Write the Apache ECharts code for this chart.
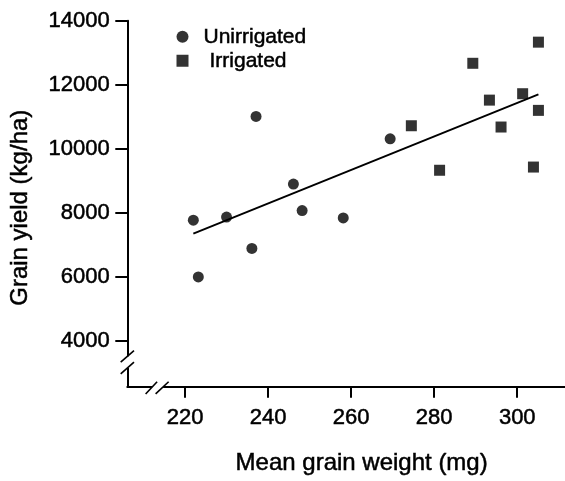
<!DOCTYPE html>
<html>
<head>
<meta charset="utf-8">
<script src="https://cdn.jsdelivr.net/npm/echarts@6/dist/echarts.min.js"></script>
<style>
html, body { margin: 0; padding: 0; background: #fff; }
#main { width: 565px; height: 481px; }
</style>
</head>
<body>
<div id="main"></div>
<script>
// values
var unirrWeight = [222.0, 223.2, 230.0, 236.1, 237.1, 246.1, 248.2, 258.1, 269.4];
var unirrYield  = [7770, 6000, 7870, 6890, 11010, 8900, 8070, 7840, 10310];
var irrWeight = [274.5, 281.3, 289.3, 293.3, 296.1, 301.3, 305.1, 305.1, 303.9];
var irrYield  = [10720, 9330, 12670, 11520, 10680, 11720, 13330, 11200, 9430];
var fitWeight = [222.0, 305.1];
var fitYield  = [7350, 11700];
var xTicks = [220, 240, 260, 280, 300];
var yTicks = [4000, 6000, 8000, 10000, 12000, 14000];
var xBreakAt = 213.4, yBreakAt = 3337;

function pairs(xs, ys) {
    return xs.map(function (x, i) { return [x, ys[i]]; });
}

var FONT = '"Liberation Sans", Arial, sans-serif';
// scanned figure text is a little heavy, thicken the glyphs slightly
var ink = { color: '#000', fontFamily: FONT, textBorderColor: '#000', textBorderWidth: 0.5 };

var dom = document.getElementById('main');
var myChart = echarts.init(dom);

var option = {
    animation: false,
    textStyle: { fontFamily: FONT, color: '#000' },
    grid: { left: 127.3, right: 0, top: 20.7, bottom: 87.7, containLabel: false },
    legend: {
        orient: 'vertical',
        left: 171.5,
        top: 21,
        itemWidth: 12,
        itemHeight: 12,
        itemGap: 2.5,
        textStyle: Object.assign({ fontSize: 21, lineHeight: 21 }, ink),
        data: [
            { name: 'Unirrigated', textStyle: { padding: [0, 0, 0, 10] } },
            { name: 'Irrigated', textStyle: { padding: [0, 0, 0, 16] } }
        ]
    },
    xAxis: {
        type: 'value',
        min: 206.1,
        max: 311.5,
        splitLine: { show: false },
        axisLine: { show: true, onZero: false, lineStyle: { color: '#000', width: 2 } },
        axisTick: { show: true, length: 11, customValues: xTicks, lineStyle: { color: '#000', width: 2 } },
        axisLabel: Object.assign({ customValues: xTicks, fontSize: 22, margin: 20,
            formatter: function (v) { return String(v); } }, ink),
        name: 'Mean grain weight (mg)',
        nameLocation: 'middle',
        nameGap: 65,
        nameTextStyle: Object.assign({ fontSize: 24, padding: [0, 0, 0, 31] }, ink)
    },
    yAxis: {
        type: 'value',
        min: 2570,
        max: 14000,
        splitLine: { show: false },
        axisLine: { show: true, onZero: false, lineStyle: { color: '#000', width: 2 } },
        axisTick: { show: true, length: 12, customValues: yTicks, lineStyle: { color: '#000', width: 2 } },
        axisLabel: Object.assign({ customValues: yTicks, fontSize: 22, margin: 17.6,
            formatter: function (v) { return String(v); } }, ink),
        name: 'Grain yield (kg/ha)',
        nameLocation: 'middle',
        nameRotate: 90,
        nameGap: 95,
        nameTextStyle: Object.assign({ fontSize: 24, padding: [0, 8, 0, 0] }, ink)
    },
    series: [
        {
            name: 'Unirrigated',
            type: 'scatter',
            symbol: 'circle',
            symbolSize: 11,
            itemStyle: { color: '#000' },
            data: pairs(unirrWeight, unirrYield)
        },
        {
            name: 'Irrigated',
            type: 'scatter',
            symbol: 'rect',
            symbolSize: 11,
            itemStyle: { color: '#000' },
            data: pairs(irrWeight, irrYield)
        },
        {
            name: 'fit',
            type: 'line',
            showSymbol: false,
            symbol: 'none',
            lineStyle: { color: '#000', width: 2 },
            data: pairs(fitWeight, fitYield),
            z: 1
        }
    ]
};

myChart.setOption(option);

// axis break marks
var yb = myChart.convertToPixel({ gridIndex: 0 }, [206.1, yBreakAt]);
var xb = myChart.convertToPixel({ gridIndex: 0 }, [xBreakAt, 2570]);
var slash = { stroke: '#000', lineWidth: 1.6 };
myChart.setOption({
    graphic: [
        { type: 'rect', z: 100, shape: { x: yb[0] - 3, y: yb[1] - 5.8, width: 6, height: 11.6 }, style: { fill: '#fff' } },
        { type: 'line', z: 101, shape: { x1: yb[0] - 6.6, y1: yb[1], x2: yb[0] + 6.7, y2: yb[1] - 11.6 }, style: slash },
        { type: 'line', z: 101, shape: { x1: yb[0] - 6.6, y1: yb[1] + 11.7, x2: yb[0] + 6.7, y2: yb[1] }, style: slash },
        { type: 'rect', z: 100, shape: { x: xb[0] - 5.5, y: xb[1] - 3, width: 11, height: 6 }, style: { fill: '#fff' } },
        { type: 'line', z: 101, shape: { x1: xb[0] - 12, y1: xb[1] + 7.2, x2: xb[0] - 0.5, y2: xb[1] - 5 }, style: slash },
        { type: 'line', z: 101, shape: { x1: xb[0] - 2, y1: xb[1] + 7.2, x2: xb[0] + 11, y2: xb[1] - 5 }, style: slash }
    ]
});
</script>
</body>
</html>
